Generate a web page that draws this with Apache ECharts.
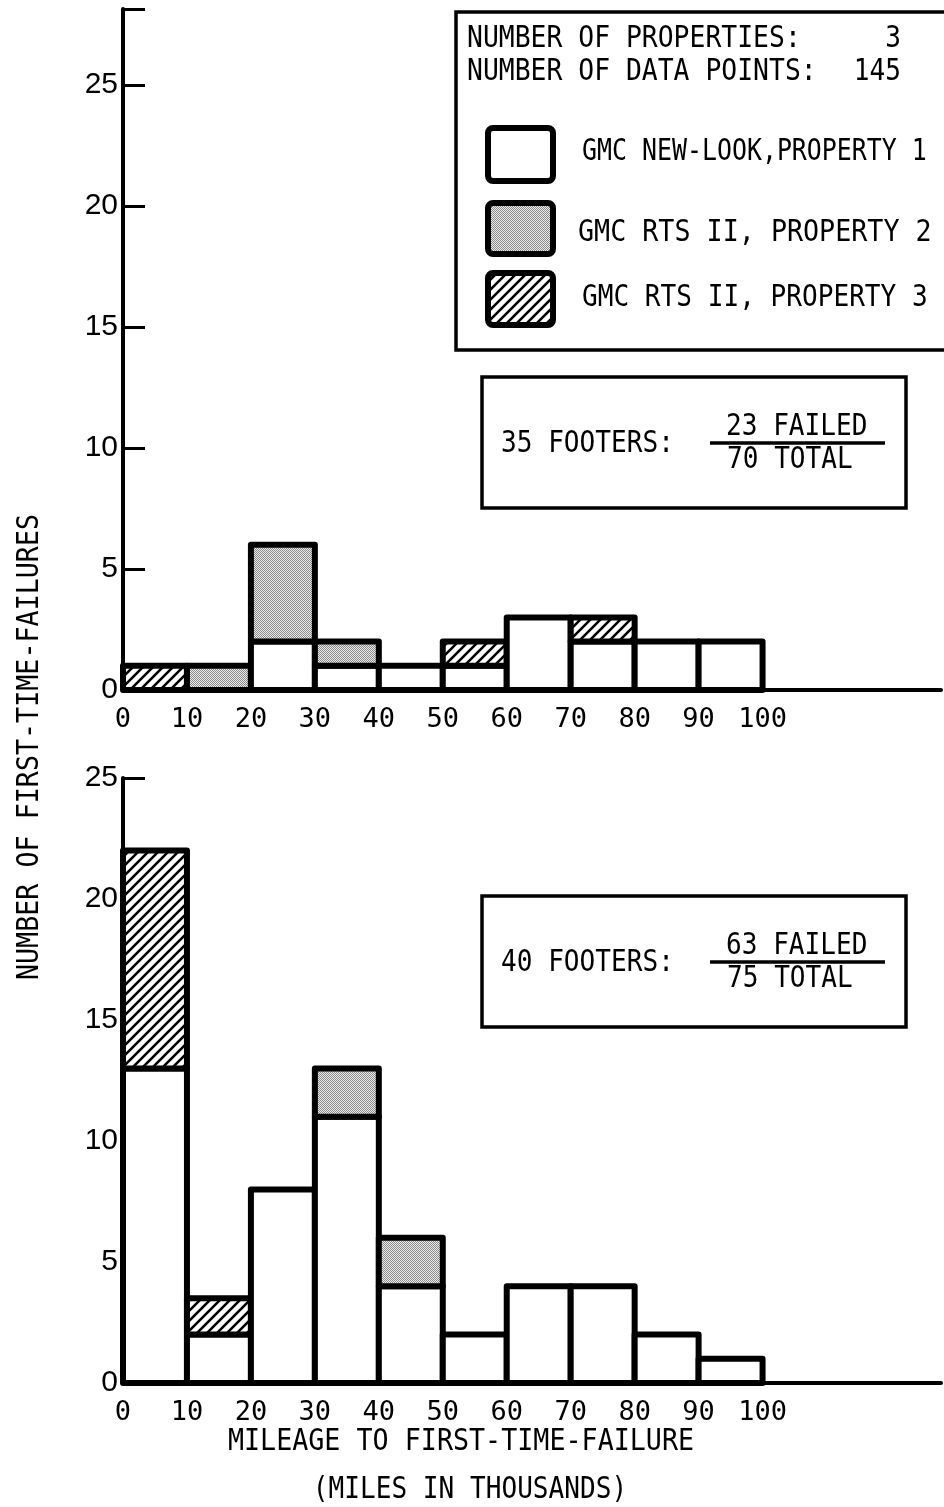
<!DOCTYPE html>
<html>
<head>
<meta charset="utf-8">
<script src="https://cdn.jsdelivr.net/npm/echarts@6/dist/echarts.min.js"></script>
<style>
  html, body { margin: 0; padding: 0; background: #fff; }
  #chart { width: 944px; height: 1507px; }
</style>
</head>
<body>
<div id="chart"></div>
<script>
// Mileage bins (thousands of miles), each 10 wide
const binStarts = [0, 10, 20, 30, 40, 50, 60, 70, 80, 90];
const binWidth = 10;

// 35-foot coaches: first-time failures per bin, by property
const p1Footer35 = [0, 0, 2, 1, 1, 1, 3, 2, 2, 2];
const p2Footer35 = [0, 1, 4, 1, 0, 0, 0, 0, 0, 0];
const p3Footer35 = [1, 0, 0, 0, 0, 1, 0, 1, 0, 0];

// 40-foot coaches: first-time failures per bin, by property
const p1Footer40 = [13, 2, 8, 11, 4, 2, 4, 4, 2, 1];
const p2Footer40 = [0, 0, 0, 2, 2, 0, 0, 0, 0, 0];
const p3Footer40 = [9, 1.5, 0, 0, 0, 0, 0, 0, 0, 0];

const xTickLabels = [0, 10, 20, 30, 40, 50, 60, 70, 80, 90, 100];
const yTickLabels = [0, 5, 10, 15, 20, 25];

const propertyNames = ['GMC NEW-LOOK,PROPERTY 1', 'GMC RTS II, PROPERTY 2', 'GMC RTS II, PROPERTY 3'];
const summaryLines = ['NUMBER OF PROPERTIES:', 'NUMBER OF DATA POINTS:'];
const summaryValues = ['3', '145'];
const footerBoxes = [
  { label: '35 FOOTERS:', failed: '23 FAILED', total: '70 TOTAL' },
  { label: '40 FOOTERS:', failed: '63 FAILED', total: '75 TOTAL' }
];

// ---- fill patterns ----
function makeStipple() {
  const c = document.createElement('canvas');
  c.width = 2; c.height = 2;
  const g = c.getContext('2d');
  g.fillStyle = '#ececec'; g.fillRect(0, 0, 2, 2);
  g.fillStyle = '#8a8a8a'; g.fillRect(0, 0, 1, 1); g.fillRect(1, 1, 1, 1);
  return c;
}
function makeHatch() {
  const s = 10;
  const c = document.createElement('canvas');
  c.width = s; c.height = s;
  const g = c.getContext('2d');
  g.fillStyle = '#fff'; g.fillRect(0, 0, s, s);
  g.strokeStyle = '#000'; g.lineWidth = 2.6; g.lineCap = 'square';
  g.beginPath();
  g.moveTo(0, s); g.lineTo(s, 0);
  g.moveTo(-2, 2); g.lineTo(2, -2);
  g.moveTo(s - 2, s + 2); g.lineTo(s + 2, s - 2);
  g.stroke();
  return c;
}
const fills = [
  '#ffffff',
  { image: makeStipple(), repeat: 'repeat' },
  { image: makeHatch(), repeat: 'repeat' }
];

// Stack the three properties per bin: [x0, x1, yFrom, yTo, propertyIndex]
function stackSegments(p1, p2, p3) {
  const out = [];
  binStarts.forEach((x0, i) => {
    let base = 0;
    [p1[i], p2[i], p3[i]].forEach((v, k) => {
      if (v > 0) {
        out.push([x0, x0 + binWidth, base, base + v, k]);
        base += v;
      }
    });
  });
  return out;
}

function renderBin(params, api) {
  const a = api.coord([api.value(0), api.value(2)]);
  const b = api.coord([api.value(1), api.value(3)]);
  return {
    type: 'rect',
    shape: { x: a[0], y: b[1], width: b[0] - a[0], height: a[1] - b[1] },
    style: { fill: fills[api.value(4)], stroke: '#000', lineWidth: 6, lineJoin: 'round' }
  };
}

const MONO = '"DejaVu Sans Mono", "Liberation Mono", monospace';
const SANS = '"Liberation Sans", Arial, sans-serif';

function xAxisDef(gridIndex) {
  return {
    type: 'value', gridIndex, min: 0, max: 127.9, interval: 10,
    axisLine: { lineStyle: { color: '#000', width: 4 } },
    axisTick: { show: false },
    splitLine: { show: false },
    axisLabel: {
      color: '#000', fontFamily: MONO, fontSize: 27, margin: 16,
      formatter: v => (xTickLabels.indexOf(v) >= 0 ? String(v) : '')
    }
  };
}
function yAxisDef(gridIndex, max) {
  return {
    type: 'value', gridIndex, min: 0, max, interval: 5,
    axisLine: { show: true, lineStyle: { color: '#000', width: 4 } },
    axisTick: { show: true, inside: true, length: 22, lineStyle: { color: '#000', width: 3 } },
    splitLine: { show: false },
    axisLabel: {
      color: '#000', fontFamily: SANS, fontSize: 30, margin: 5,
      formatter: v => (yTickLabels.indexOf(v) >= 0 ? String(v) : '')
    }
  };
}

function txt(x, y, text, opts) {
  opts = opts || {};
  const align = opts.align || 'left';
  return {
    type: 'text', x, y, rotation: opts.rotation || 0,
    scaleX: opts.scaleX == null ? 0.87 : opts.scaleX,
    style: {
      text, font: (opts.size || 30) + 'px ' + MONO, fill: '#000',
      align, textAlign: align, verticalAlign: 'middle', textVerticalAlign: 'middle'
    }
  };
}

const graphics = [];
// summary / legend box
graphics.push({ type: 'rect', shape: { x: 456, y: 12, width: 520, height: 338 },
  style: { fill: '#fff', stroke: '#000', lineWidth: 3.5 }, z: 10 });
graphics.push(Object.assign(txt(467, 39, summaryLines[0], { scaleX: 0.88 }), { z: 11 }));
graphics.push(Object.assign(txt(467, 72, summaryLines[1], { scaleX: 0.88 }), { z: 11 }));
graphics.push(Object.assign(txt(901, 39, summaryValues[0], { align: 'right' }), { z: 11 }));
graphics.push(Object.assign(txt(901, 72, summaryValues[1], { align: 'right' }), { z: 11 }));
const swatchY = [128, 203, 273];
const swatchH = [53, 51, 52];
const labelY = [152, 233, 298];
const labelX = [582, 578, 582];
const labelScale = [0.83, 0.89, 0.87];
propertyNames.forEach((name, k) => {
  graphics.push({ type: 'rect', shape: { x: 488, y: swatchY[k], width: 65, height: swatchH[k], r: 5 },
    style: { fill: fills[k], stroke: '#000', lineWidth: 6 }, z: 11 });
  graphics.push(Object.assign(txt(labelX[k], labelY[k], name, { scaleX: labelScale[k] }), { z: 11 }));
});
// footer boxes
const boxTop = [377, 896];
footerBoxes.forEach((f, i) => {
  const t = boxTop[i];
  graphics.push({ type: 'rect', shape: { x: 482, y: t, width: 424, height: 131 },
    style: { fill: '#fff', stroke: '#000', lineWidth: 3.5 }, z: 10 });
  graphics.push(Object.assign(txt(501, t + 67, f.label), { z: 11 }));
  graphics.push(Object.assign(txt(726, t + 50, f.failed), { z: 11 }));
  graphics.push({ type: 'line', shape: { x1: 710, y1: t + 66, x2: 885, y2: t + 66 },
    style: { stroke: '#000', lineWidth: 3.5 }, z: 11 });
  graphics.push(Object.assign(txt(727, t + 83, f.total), { z: 11 }));
});
// axis titles
graphics.push(txt(30, 747, 'NUMBER OF FIRST-TIME-FAILURES', { align: 'center', rotation: Math.PI / 2, scaleX: 0.89 }));
graphics.push(txt(461, 1442, 'MILEAGE TO FIRST-TIME-FAILURE', { align: 'center', scaleX: 0.89 }));
graphics.push(txt(470, 1490, '(MILES IN THOUSANDS)', { align: 'center' }));

const chart = echarts.init(document.getElementById('chart'), null, { renderer: 'canvas' });
chart.setOption({
  animation: false,
  backgroundColor: '#fff',
  grid: [
    { left: 123, top: 9, width: 821, height: 681 },
    { left: 123, top: 778, width: 821, height: 605 }
  ],
  xAxis: [xAxisDef(0), xAxisDef(1)],
  yAxis: [yAxisDef(0, 28.15), yAxisDef(1, 25)],
  series: [
    { type: 'custom', name: '35 FOOTERS', xAxisIndex: 0, yAxisIndex: 0, clip: false,
      renderItem: renderBin, encode: { x: [0, 1], y: [2, 3] },
      data: stackSegments(p1Footer35, p2Footer35, p3Footer35) },
    { type: 'custom', name: '40 FOOTERS', xAxisIndex: 1, yAxisIndex: 1, clip: false,
      renderItem: renderBin, encode: { x: [0, 1], y: [2, 3] },
      data: stackSegments(p1Footer40, p2Footer40, p3Footer40) }
  ],
  graphic: { elements: graphics }
});
</script>
</body>
</html>
